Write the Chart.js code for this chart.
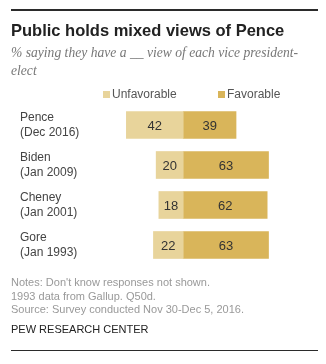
<!DOCTYPE html>
<html>
<head>
<meta charset="utf-8">
<script src="https://cdn.jsdelivr.net/npm/chart.js@4"></script>
<style>
  body { margin: 0; background: #fff; width: 326px; height: 364px; position: relative; overflow: hidden; font-family: "Liberation Sans", Arial, sans-serif; }
  #chart-box { position: absolute; left: 0; top: 0; width: 326px; height: 364px; }
  #title { position: absolute; left: 11px; top: 21px; font-size: 16.5px; font-weight: bold; color: #222; white-space: nowrap; }
  #subtitle { position: absolute; left: 11px; top: 44px; width: 300px; font-family: "Liberation Serif", serif; font-style: italic; font-size: 13.6px; line-height: 18px; color: #777; }
  .legend { position: absolute; top: 87px; font-size: 12px; color: #555; white-space: nowrap; }
  .legend span { display: inline-block; width: 7px; height: 7px; margin-right: 2px; vertical-align: 0px; }
  #notes { position: absolute; left: 11px; top: 276px; font-size: 11px; line-height: 13.5px; color: #999; }
  #source { position: absolute; left: 11px; top: 323px; font-size: 11px; color: #222; }
</style>
</head>
<body>
<div id="chart-box"><canvas id="vp-chart"></canvas></div>
<div id="title">Public holds mixed views of Pence</div>
<div id="subtitle">% saying they have a __ view of each vice president-elect</div>
<div class="legend" style="left:103px"><span style="background:#e8d49b"></span>Unfavorable</div>
<div class="legend" style="left:218px"><span style="background:#d9b55a"></span>Favorable</div>
<div id="notes">Notes: Don't know responses not shown.<br>1993 data from Gallup. Q50d.<br>Source: Survey conducted Nov 30-Dec 5, 2016.</div>
<div id="source">PEW RESEARCH CENTER</div>

<script>
const categories = [['Pence', '(Dec 2016)'], ['Biden', '(Jan 2009)'], ['Cheney', '(Jan 2001)'], ['Gore', '(Jan 1993)']];
const unfavorable = [42, 20, 18, 22];
const favorable = [39, 63, 62, 63];

// unfavorable goes to the left of zero, favorable to the right
const barLabels = {
    id: 'barLabels',
    afterDatasetsDraw(chart) {
        const ctx = chart.ctx;
        ctx.save();
        ctx.font = '13px "Liberation Sans", Arial, sans-serif';
        ctx.fillStyle = '#333';
        ctx.textAlign = 'center';
        ctx.textBaseline = 'middle';
        chart.data.datasets.forEach((ds, di) => {
            chart.getDatasetMeta(di).data.forEach((bar, i) => {
                const x = (bar.x + bar.base) / 2;
                ctx.fillText(Math.abs(ds.data[i]), x, bar.y + 1);
            });
        });
        ctx.restore();
    }
};

// thin dark rules above the title and below the source line
const frameRules = {
    id: 'frameRules',
    afterDraw(chart) {
        const ctx = chart.ctx;
        ctx.save();
        ctx.fillStyle = '#2b2b2b';
        ctx.fillRect(11, 9, 307, 2);
        ctx.fillRect(11, 350, 307, 1);
        ctx.restore();
    }
};

new Chart(document.getElementById('vp-chart'), {
    type: 'bar',
    data: {
        labels: categories,
        datasets: [
            { label: 'Unfavorable', data: unfavorable.map(v => -v), backgroundColor: '#e8d49b', barThickness: 27 },
            { label: 'Favorable', data: favorable, backgroundColor: '#d9b55a', barThickness: 27 }
        ]
    },
    options: {
        indexAxis: 'y',
        responsive: true, maintainAspectRatio: false,
        animation: false,
        layout: { padding: { left: 20, right: 48, top: 105, bottom: 99 } },
        plugins: { legend: { display: false }, tooltip: { enabled: false } },
        scales: {
            x: { stacked: true, min: -60, max: 70, display: false },
            y: {
                stacked: true,
                grid: { display: false },
                border: { display: false },
                afterFit: (scale) => {
                    scale.width = 82;
                    // two-line labels would otherwise shrink the plot area
                    scale.paddingTop = 0;
                    scale.paddingBottom = 0;
                },
                ticks: {
                    crossAlign: 'far',
                    color: '#444',
                    font: { family: '"Liberation Sans", Arial, sans-serif', size: 12, lineHeight: 1.2 }
                }
            }
        }
    },
    plugins: [barLabels, frameRules]
});
</script>
</body>
</html>
